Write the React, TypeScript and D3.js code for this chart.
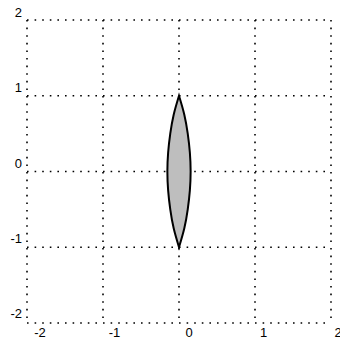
import { scaleLinear, line, curveNatural } from "d3";

// grid values on both axes
const ticks = [-2, -1, 0, 1, 2];
const tickLabels = ["-2", "-1", "0", "1", "2"];

// lens outline: y position and half width
const lensY = [1, 0.75, 0.5, 0.25, 0, -0.25, -0.5, -0.75, -1];
const lensHalfWidth = [0, 0.07, 0.115, 0.143, 0.153, 0.143, 0.115, 0.07, 0];

const W = 340;
const H = 345;

function App() {
  const x = scaleLinear().domain([-2, 2]).range([27, 331]);
  const y = scaleLinear().domain([-2, 2]).range([323, 20]);
  // tick labels sit a bit off their grid lines in the original
  const xLabel = scaleLinear().domain([-2, 2]).range([40, 338]);
  const yLabel = scaleLinear().domain([-2, 2]).range([318, 17]);

  const side = line<number>()
    .x((d) => d[0])
    .y((d) => d[1])
    .curve(curveNatural);

  const right = lensY.map((v, i) => [x(lensHalfWidth[i]), y(v)]);
  const left = lensY
    .map((v, i) => [x(-lensHalfWidth[i]), y(v)])
    .reverse();
  const lensPath =
    side(right as any) + (side(left as any) || "").replace(/^M/, "L") + "Z";

  const dots = { stroke: "#000", strokeWidth: 1.6, strokeDasharray: "1.6 6" };

  return (
    <svg
      width={W}
      height={H}
      style={{ position: "absolute", left: 0, top: 0, background: "#fff" }}
      fontFamily="'Liberation Sans', Arial, sans-serif"
      fontSize={13}
    >
      {ticks.map((t) => (
        <line key={"v" + t} x1={x(t)} x2={x(t)} y1={y(2)} y2={y(-2)} {...dots} />
      ))}
      {ticks.map((t) => (
        <line key={"h" + t} x1={x(-2)} x2={x(2)} y1={y(t)} y2={y(t)} {...dots} />
      ))}

      <path d={lensPath} fill="#bebebe" stroke="#000" strokeWidth={2} strokeLinejoin="miter" />

      {ticks.map((t, i) => (
        <text key={"xl" + t} x={xLabel(t)} y={337} textAnchor="middle" fill="#000">
          {tickLabels[i]}
        </text>
      ))}
      {ticks.map((t, i) => (
        <text key={"yl" + t} x={22} y={yLabel(t)} textAnchor="end" fill="#000">
          {tickLabels[i]}
        </text>
      ))}
    </svg>
  );
}

export default App;
